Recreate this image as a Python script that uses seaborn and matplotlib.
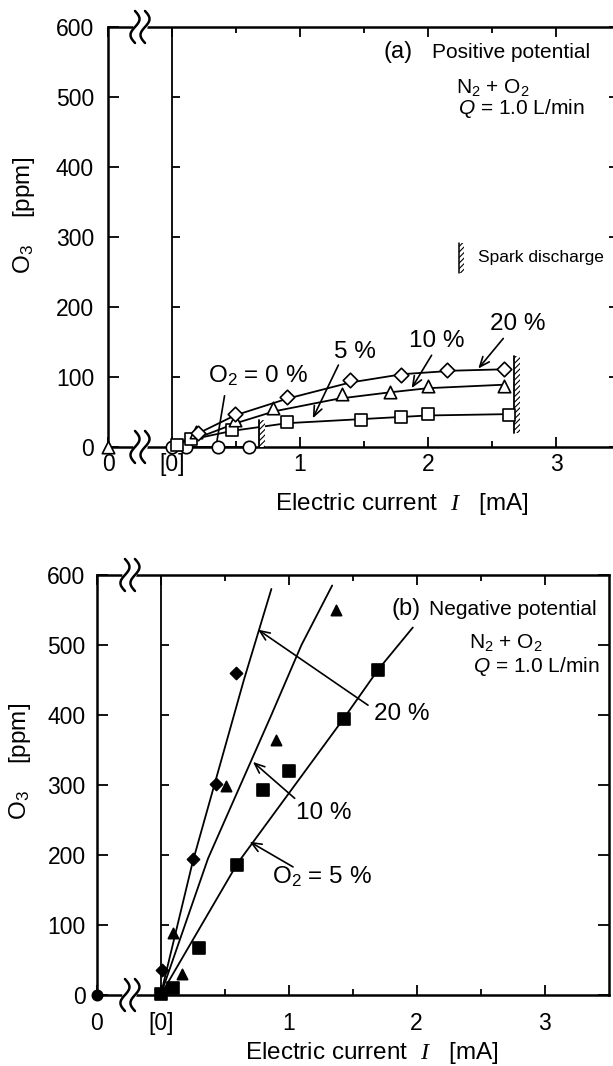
import numpy as np
import matplotlib
matplotlib.use("Agg")
import matplotlib.pyplot as plt
import seaborn as sns
from matplotlib.patches import Rectangle
from matplotlib.markers import TICKRIGHT

# ---- (a) positive potential: measured points (open markers) ----
pos_20_x = [0.20, 0.49, 0.90, 1.39, 1.79, 2.15, 2.59]
pos_20_y = [20, 47, 71, 96, 103, 110, 111]
pos_10_x = [0.19, 0.49, 0.79, 1.33, 1.70, 2.00, 2.59]
pos_10_y = [22, 38, 55, 76, 79, 87, 87]
pos_05_x = [0.04, 0.15, 0.47, 0.90, 1.48, 1.79, 2.00, 2.63]
pos_05_y = [3, 12, 24, 35, 38, 43, 47, 46]
pos_00_x = [0.00, 0.11, 0.36, 0.60]
pos_00_y = [0, 0, 0, 0]

# trend curves
pos_20_cx = [0.0, 0.20, 0.49, 0.90, 1.39, 1.80, 2.20, 2.60]
pos_20_cy = [0, 19, 45, 69, 92, 104, 109, 111]
pos_10_cx = [0.0, 0.30, 0.50, 0.80, 1.30, 1.70, 2.00, 2.60]
pos_10_cy = [0, 20, 34, 51, 69, 78, 84, 89]
pos_05_cx = [0.0, 0.16, 0.47, 0.90, 1.50, 2.00, 2.65]
pos_05_cy = [0, 11, 23, 34, 40, 45, 47]
pos_00_cx = [0.0, 0.60]
pos_00_cy = [0, 0]

# spark discharge onset bars (x, y from, y to)
spark_x = [0.68, 2.67]
spark_y0 = [0, 20]
spark_y1 = [38, 130]

# ---- (b) negative potential: measured points (filled markers) ----
neg_20_x = [0.01, 0.25, 0.43, 0.59]
neg_20_y = [36, 195, 301, 460]
neg_10_x = [0.10, 0.17, 0.51, 0.90, 1.37]
neg_10_y = [88, 30, 298, 364, 550]
neg_05_x = [0.00, 0.10, 0.30, 0.60, 0.80, 1.00, 1.43, 1.70]
neg_05_y = [2, 10, 67, 186, 293, 320, 394, 465]

neg_20_cx = [0.0, 0.25, 0.45, 0.65, 0.865]
neg_20_cy = [0, 190, 320, 450, 580]
neg_10_cx = [0.0, 0.37, 0.86, 1.10, 1.34]
neg_10_cy = [0, 195, 398, 500, 585]
neg_05_cx = [0.0, 0.60, 1.43, 1.70, 1.97]
neg_05_cy = [0, 188, 395, 465, 525]

x_ticks = [-0.5, 0, 1, 2, 3]
x_labels = ["0", "[0]", "1", "2", "3"]
y_ticks = [0, 100, 200, 300, 400, 500, 600]

sns.set_theme(style="ticks")
plt.rcParams["font.family"] = ["Liberation Sans", "DejaVu Sans"]
plt.rcParams["mathtext.fontset"] = "custom"
plt.rcParams["mathtext.rm"] = "Liberation Sans"
plt.rcParams["mathtext.it"] = "Liberation Sans:italic"
plt.rcParams["mathtext.cal"] = "Liberation Serif:italic"
plt.rcParams["hatch.linewidth"] = 0.8
for key in ["text.color", "axes.labelcolor", "xtick.color", "ytick.color",
            "axes.edgecolor"]:
    plt.rcParams[key] = "black"

fig = plt.figure(figsize=(6.13, 10.66), dpi=100)
ax_a = fig.add_axes([0.1762, 0.5807, 0.8352, 0.3940])
ax_b = fig.add_axes([0.1577, 0.0666, 0.8352, 0.3940])


def style_axes(ax, ypad, xpad):
    ax.set_xlim(-0.5, 3.5)
    ax.set_ylim(0, 600)
    ax.set_xticks(x_ticks)
    ax.set_xticklabels(x_labels)
    ax.set_xticks([0.5, 1.5, 2.5], minor=True)
    ax.set_yticks(y_ticks)
    for s in ax.spines.values():
        s.set_linewidth(1.8)
        s.set_color("black")
    ax.tick_params(axis="both", which="both", direction="in", top=True,
                   right=True, colors="black", width=1.3, labelsize=16.5)
    ax.tick_params(axis="y", which="major", length=8, pad=ypad)
    ax.tick_params(axis="x", which="major", length=7, pad=xpad)
    ax.tick_params(axis="x", which="minor", length=4)
    # inner axis at [0]
    ax.axvline(0, color="black", lw=1.3, zorder=2)
    ax.plot(np.zeros(5), y_ticks[1:6], ls="none", marker=TICKRIGHT,
            ms=6, mew=1.3, color="black")


def wavy_break(ax, xc, yc):
    tr = ax.transData
    inv = tr.inverted()
    x0, y0 = tr.transform((xc, yc))
    t = np.linspace(-1, 1, 50)
    gap = inv.transform([[x0 - 4.5, y0], [x0 + 4.5, y0]])
    ax.plot(gap[:, 0], gap[:, 1], color="white", lw=4, clip_on=False, zorder=5)
    for dx in (-5, 5):
        px = x0 + dx + 4.5 * np.sin(np.pi * t)
        py = y0 + 16 * t
        pts = inv.transform(np.column_stack([px, py]))
        ax.plot(pts[:, 0], pts[:, 1], color="black", lw=1.8,
                clip_on=False, zorder=6)


def curve(ax, x, y):
    sns.lineplot(x=x, y=y, color="black", lw=1.3, sort=False,
                 estimator=None, ax=ax, zorder=2)


def points(ax, x, y, marker, s, filled):
    face = "black" if filled else "white"
    sns.scatterplot(x=x, y=y, marker=marker, s=s, color=face,
                    edgecolor="black", linewidth=1.2, ax=ax, zorder=4,
                    clip_on=False)


arrow = dict(arrowstyle="->,head_length=0.6,head_width=0.25",
             color="black", lw=1.2, shrinkA=0, shrinkB=0)

# ---------------- (a) ----------------
style_axes(ax_a, ypad=10, xpad=4)
curve(ax_a, pos_20_cx, pos_20_cy)
curve(ax_a, pos_10_cx, pos_10_cy)
curve(ax_a, pos_05_cx, pos_05_cy)
curve(ax_a, pos_00_cx, pos_00_cy)
points(ax_a, pos_00_x, pos_00_y, "o", 80, False)
points(ax_a, pos_05_x, pos_05_y, "s", 85, False)
points(ax_a, pos_10_x, pos_10_y, "^", 80, False)
points(ax_a, pos_20_x, pos_20_y, "D", 55, False)
points(ax_a, [-0.5], [0], "^", 80, False)

for x, y0, y1 in zip(spark_x, spark_y0, spark_y1):
    ax_a.add_patch(Rectangle((x, y0), 0.045, y1 - y0, facecolor="white",
                             edgecolor="black", hatch="//////", lw=0, zorder=3))
    ax_a.plot([x, x], [y0, y1], color="black", lw=1.3, zorder=3)
ax_a.add_patch(Rectangle((2.245, 249), 0.04, 42, facecolor="white",
                         edgecolor="black", hatch="//////", lw=0, zorder=3))
ax_a.plot([2.245, 2.245], [249, 291], color="black", lw=1.1, zorder=3)
ax_a.text(2.39, 270, "Spark discharge", fontsize=12.5, va="center")

ax_a.text(1.65, 564, "(a)", fontsize=17, va="center")
ax_a.text(2.03, 564, "Positive potential", fontsize=15, va="center")
ax_a.text(2.22, 513, "N$_2$ + O$_2$", fontsize=15, va="center")
ax_a.text(2.235, 484, "$Q$ = 1.0 L/min", fontsize=15, va="center")

ax_a.annotate("", xy=(2.393, 112), xytext=(2.588, 155), arrowprops=arrow)
ax_a.annotate("", xy=(1.872, 84), xytext=(2.028, 131), arrowprops=arrow)
ax_a.annotate("", xy=(1.10, 41), xytext=(1.30, 117), arrowprops=arrow)
ax_a.annotate("", xy=(0.348, 5), xytext=(0.414, 77),
              arrowprops=dict(arrowstyle="-", color="black", lw=1.2))
ax_a.text(2.70, 176, "20 %", fontsize=17.5, ha="center", va="center")
ax_a.text(2.065, 151, "10 %", fontsize=17.5, ha="center", va="center")
ax_a.text(1.43, 136, "5 %", fontsize=17.5, ha="center", va="center")
ax_a.text(0.674, 102, "O$_2$ = 0 %", fontsize=17.5, ha="center", va="center")

ax_a.set_xlabel(r"Electric current  $\mathcal{I}$   [mA]", fontsize=17.5)
ax_a.xaxis.label.set_va("center")
ax_a.xaxis.set_label_coords(0.574, -0.136)
ax_a.set_ylabel("O$_3$    [ppm]", fontsize=17.5)
ax_a.yaxis.label.set_va("center")
ax_a.yaxis.set_label_coords(-0.164, 0.552)
wavy_break(ax_a, -0.25, 0)
wavy_break(ax_a, -0.25, 600)

# ---------------- (b) ----------------
style_axes(ax_b, ypad=8, xpad=12)
curve(ax_b, neg_20_cx, neg_20_cy)
curve(ax_b, neg_10_cx, neg_10_cy)
curve(ax_b, neg_05_cx, neg_05_cy)
points(ax_b, neg_05_x, neg_05_y, "s", 75, True)
points(ax_b, neg_10_x, neg_10_y, "^", 55, True)
points(ax_b, neg_20_x, neg_20_y, "D", 38, True)
points(ax_b, [-0.5], [0], "o", 55, True)

ax_b.text(1.80, 551, "(b)", fontsize=17, va="center")
ax_b.text(2.10, 551, "Negative potential", fontsize=15, va="center")
ax_b.text(2.41, 503, "N$_2$ + O$_2$", fontsize=15, va="center")
ax_b.text(2.44, 470, "$Q$ = 1.0 L/min", fontsize=15, va="center")

ax_b.annotate("", xy=(0.76, 522), xytext=(1.62, 414), arrowprops=arrow)
ax_b.annotate("", xy=(0.721, 333), xytext=(1.047, 281), arrowprops=arrow)
ax_b.annotate("", xy=(0.695, 219), xytext=(1.034, 183), arrowprops=arrow)
ax_b.text(1.883, 401, "20 %", fontsize=17.5, ha="center", va="center")
ax_b.text(1.273, 260, "10 %", fontsize=17.5, ha="center", va="center")
ax_b.text(1.258, 169, "O$_2$ = 5 %", fontsize=17.5, ha="center", va="center")

ax_b.set_xlabel(r"Electric current  $\mathcal{I}$   [mA]", fontsize=17.5)
ax_b.xaxis.label.set_va("center")
ax_b.xaxis.set_label_coords(0.538, -0.138)
ax_b.set_ylabel("O$_3$    [ppm]", fontsize=17.5)
ax_b.yaxis.label.set_va("center")
ax_b.yaxis.set_label_coords(-0.150, 0.556)
wavy_break(ax_b, -0.24, 0)
wavy_break(ax_b, -0.24, 600)

fig.savefig("out.png", dpi=100)
plt.close(fig)
